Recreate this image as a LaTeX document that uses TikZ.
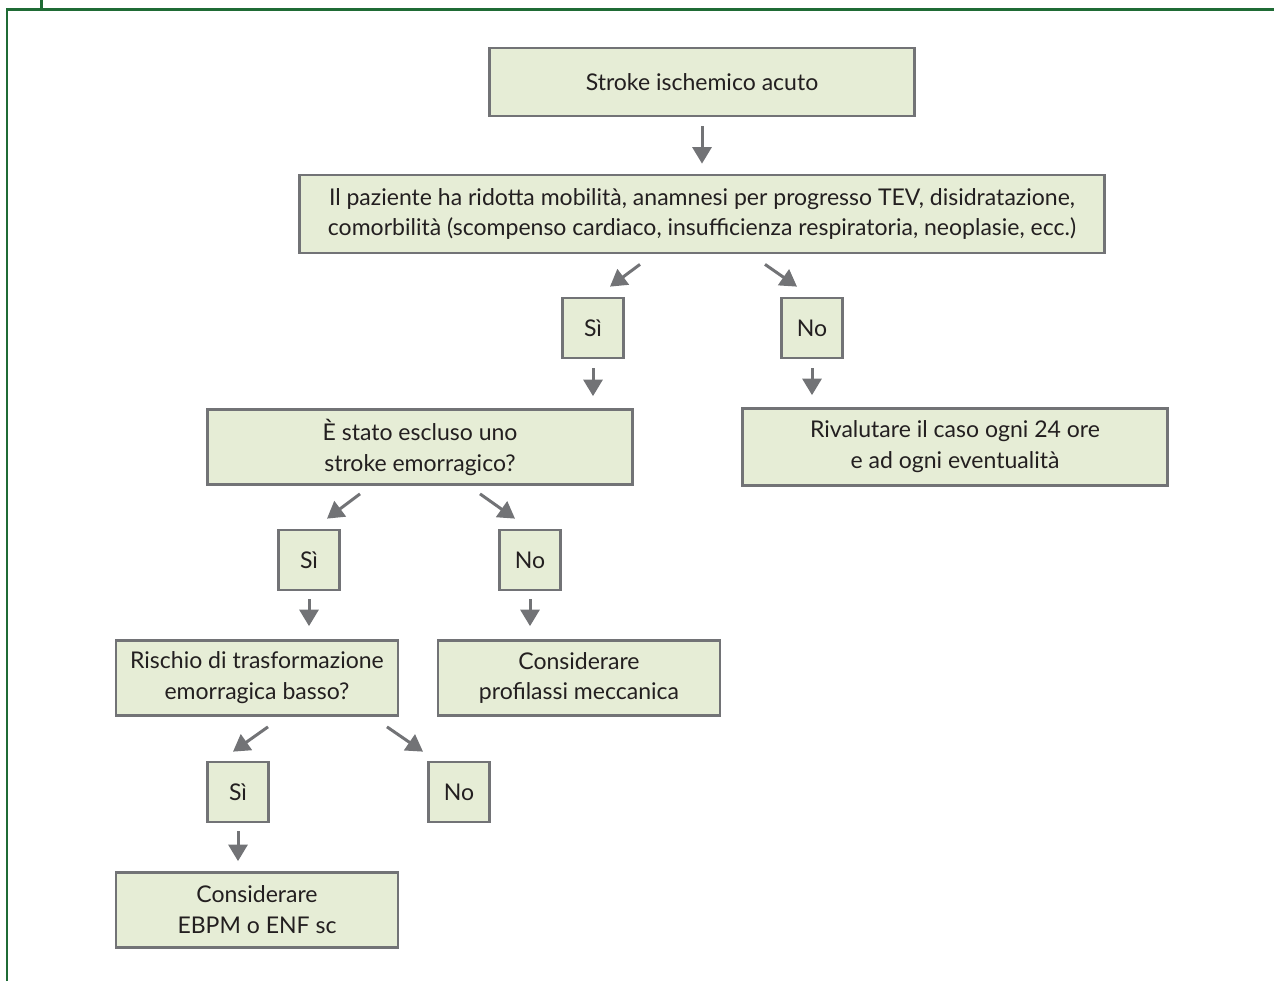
\documentclass[tikz,border=0pt]{standalone}
\usepackage{fontspec}
\setmainfont{Lato}
\usetikzlibrary{positioning,arrows.meta}
\definecolor{boxfill}{HTML}{E6EDD6}
\definecolor{boxline}{HTML}{727376}
\definecolor{boxtext}{HTML}{231F20}
\definecolor{framegreen}{HTML}{1F6B35}

\begin{document}
\begin{tikzpicture}[x=0.02cm, y=-0.02cm,
        box/.style={draw=boxline, line width=0.055cm, fill=boxfill,
                    align=center, inner sep=0pt, text=boxtext,
                    font=\fontsize{13.1}{17.6}\selectfont},
        widebox/.style={box, minimum width=8.5cm, minimum height=1.5cm},
        midbox/.style={box, minimum width=5.64cm, minimum height=1.5cm},
        ansbox/.style={box, minimum width=1.22cm, minimum height=1.2cm},
        arr/.style={-{Triangle[width=0.38cm,length=0.33cm]}, line width=0.06cm, boxline}
    ]
    \useasboundingbox (0,0) rectangle (1274,981);

    % Frame
    \draw[framegreen, line width=0.06cm] (7,981) -- (7,9.5) -- (1274,9.5);
    \draw[framegreen, line width=0.06cm] (41.5,0) -- (41.5,9.5);

    % Top
    \node[widebox, minimum height=1.36cm] (stroke) at (702, 82) {Stroke ischemico acuto};
    \node[box, minimum width=16.1cm, minimum height=1.56cm] (paz) at (702, 214)
        {Il paziente ha ridotta mobilità, anamnesi per progresso TEV, disidratazione,\\
         comorbilità (scompenso cardiaco, insufficienza respiratoria, neoplasie, ecc.)};
    \node[ansbox] (si1) at (593, 328) {Sì};
    \node[ansbox] (no1) at (812, 328) {No};

    % Second level
    \node[widebox] (escl)  at (420, 447) {È stato escluso uno\\stroke emorragico?};
    \node[widebox, minimum height=1.54cm] (rival) at (955, 447)
        {Rivalutare il caso ogni 24 ore\\e ad ogni eventualità};
    \node[ansbox] (si2) at (309, 560) {Sì};
    \node[ansbox] (no2) at (530, 560) {No};

    % Third level
    \node[midbox] (risch) at (257, 678) {Rischio di trasformazione\\emorragica basso?};
    \node[midbox] (mecc)  at (579, 678) {Considerare\\profilassi meccanica};
    \node[ansbox] (si3) at (238, 792) {Sì};
    \node[ansbox] (no3) at (459, 792) {No};
    \node[midbox] (ebpm) at (257, 910) {Considerare\\EBPM o ENF sc};

    % Arrows
    \draw[arr, shorten <=0.18cm, shorten >=0.2cm] (stroke) -- (paz);
    \draw[arr] ([xshift=-1.24cm, yshift=-0.2cm]paz.south) -- ([xshift=0.34cm, yshift=0.2cm]si1.north);
    \draw[arr] ([xshift=1.26cm, yshift=-0.2cm]paz.south) -- ([xshift=-0.3cm, yshift=0.2cm]no1.north);
    \draw[arr, shorten <=0.18cm, shorten >=0.24cm] (si1.south) -- (si1.south |- escl.north);
    \draw[arr, shorten <=0.18cm, shorten >=0.24cm] (no1.south) -- (no1.south |- rival.north);

    \draw[arr] ([xshift=-1.2cm, yshift=-0.16cm]escl.south) -- ([xshift=0.36cm, yshift=0.2cm]si2.north);
    \draw[arr] ([xshift=1.2cm, yshift=-0.16cm]escl.south) -- ([xshift=-0.3cm, yshift=0.2cm]no2.north);
    \draw[arr, shorten <=0.16cm, shorten >=0.26cm] (si2.south) -- (si2.south |- risch.north);
    \draw[arr, shorten <=0.16cm, shorten >=0.26cm] (no2.south) -- (no2.south |- mecc.north);

    \draw[arr] ([xshift=0.22cm, yshift=-0.2cm]risch.south) -- ([xshift=-0.1cm, yshift=0.18cm]si3.north);
    \draw[arr] ([xshift=2.6cm, yshift=-0.2cm]risch.south) -- ([xshift=-0.72cm, yshift=0.18cm]no3.north);
    \draw[arr, shorten <=0.16cm, shorten >=0.2cm] (si3.south) -- (si3.south |- ebpm.north);

\end{tikzpicture}
\end{document}
